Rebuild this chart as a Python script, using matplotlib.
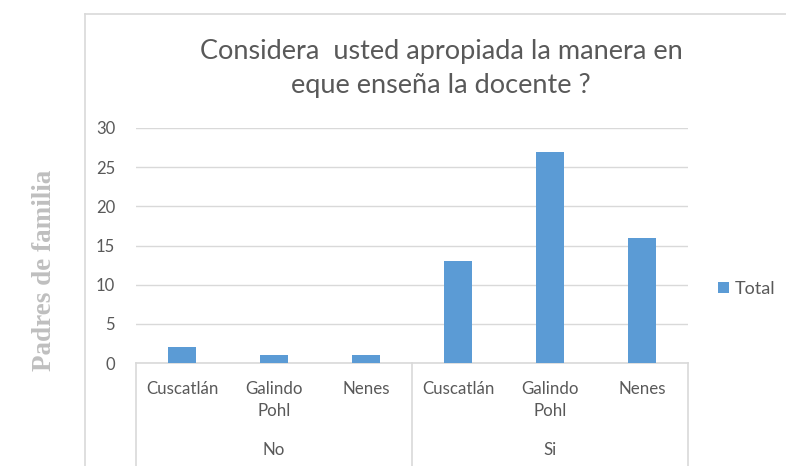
import matplotlib
matplotlib.use("Agg")
import matplotlib.pyplot as plt
from matplotlib.lines import Line2D
import matplotlib.transforms as mtransforms

groups = ["No", "Si"]
schools = ["Cuscatlán", "Galindo\nPohl", "Nenes"]
totals_no = [2, 1, 1]
totals_si = [13, 27, 16]
yticks = [0, 5, 10, 15, 20, 25, 30]
title = "Considera  usted apropiada la manera en\neque enseña la docente ?"
ylabel = "Padres de familia"
series_name = "Total"

values = totals_no + totals_si
labels = schools + schools
xs = list(range(len(values)))

TXT = "#595959"
GRID = "#D9D9D9"
BAR = "#5B9BD5"
FONT = ["Lato", "DejaVu Sans"]

fig = plt.figure(figsize=(7.86, 4.66), dpi=100)
fig.patch.set_facecolor("white")
ax = fig.add_axes([136/786, 1-363/466, (688-136)/786, (363-128)/466])

ax.bar(xs, values, width=0.31, color=BAR, zorder=3, label=series_name)
ax.set_xlim(-0.5, len(values) - 0.5)
ax.set_ylim(0, 30)
ax.set_yticks(yticks)
ax.set_yticklabels([str(t) for t in yticks], fontsize=12, color=TXT, family=FONT)
ax.tick_params(axis="y", length=0, pad=15)
ax.set_xticks([])
ax.grid(axis="y", color=GRID, linewidth=1, zorder=0)
for s in ["top", "right", "left"]:
    ax.spines[s].set_visible(False)
ax.spines["bottom"].set_color(GRID)
ax.spines["bottom"].set_linewidth(1.2)

trans = mtransforms.blended_transform_factory(ax.transData, ax.transAxes)
# category labels
for x, lab in zip(xs, labels):
    ax.text(x, -0.075, lab, transform=trans, ha="center", va="top",
            fontsize=12.2, color=TXT, family=FONT, linespacing=1.5)
# group labels and separators
n = len(schools)
for gi, g in enumerate(groups):
    center = gi * n + (n - 1) / 2
    ax.text(center, -0.37, g, transform=trans, ha="center", va="center",
            fontsize=12.2, color=TXT, family=FONT)
for edge in [-0.5, n - 0.5, 2 * n - 0.5]:
    ax.add_line(Line2D([edge, edge], [0, -0.44], transform=trans, color=GRID,
                       linewidth=1.2, clip_on=False))

# title
fig.text(441/786, 1-69/466, title, ha="center", va="center", fontsize=19.5,
         color=TXT, family=FONT, linespacing=1.45)
# y label
fig.text(45/786, 1-270/466, ylabel, rotation=90, ha="center", va="center",
         fontsize=19.5, color="#BFBFBF", family=["Liberation Serif", "DejaVu Serif"],
         fontweight="bold")

# chart border
fig.add_artist(Line2D([85/786, 85/786], [0, 1-14/466], color=GRID, linewidth=1.2,
                      transform=fig.transFigure))
fig.add_artist(Line2D([85/786, 1], [1-14/466, 1-14/466], color=GRID, linewidth=1.2,
                      transform=fig.transFigure))

leg = ax.legend(loc="center left", bbox_to_anchor=(1.055, 1-(289-128)/235),
                frameon=False, handlelength=0.6, handleheight=0.6, handletextpad=0.3,
                borderpad=0, borderaxespad=0,
                prop={"family": FONT, "size": 13})
for t in leg.get_texts():
    t.set_color(TXT)

fig.savefig("out.png", dpi=100, facecolor="white")
